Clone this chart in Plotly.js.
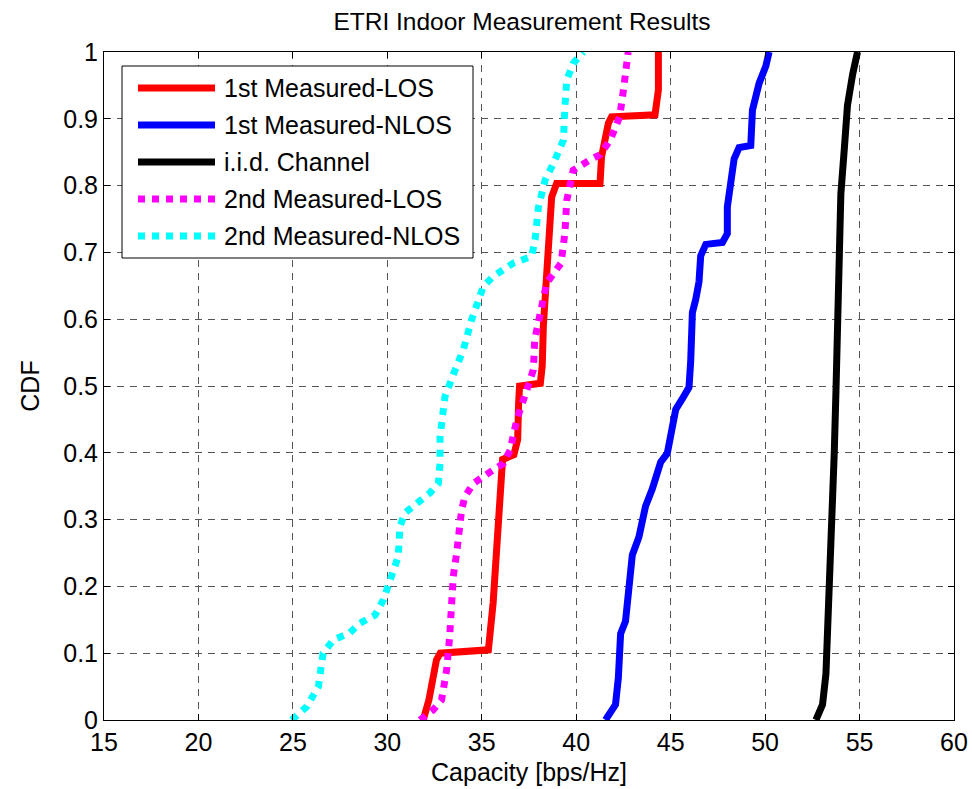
<!DOCTYPE html>
<html>
<head>
<meta charset="utf-8">
<script src="https://cdn.plot.ly/plotly-3.0.1.min.js"></script>
<style>html,body{margin:0;padding:0;background:#fff;}#chart{width:972px;height:789px;}</style>
</head>
<body>
<div id="chart"></div>
<script>
// ---- Data ----
const seriesNames = ['1st Measured-LOS', '1st Measured-NLOS', 'i.i.d. Channel', '2nd Measured-LOS', '2nd Measured-NLOS'];

const los1X = [31.9, 32.2, 32.4, 32.6, 32.8, 35.35, 35.6, 35.8, 35.9, 36.0, 36.1, 36.7, 36.9, 36.95, 37.0, 38.1, 38.2, 38.26, 38.43, 38.52, 38.7, 38.96, 41.26, 41.34, 41.7, 41.87, 44.17, 44.35, 44.35];
const los1Y = [0.0, 0.03, 0.06, 0.09, 0.10, 0.105, 0.175, 0.25, 0.31, 0.34, 0.39, 0.397, 0.42, 0.474, 0.50, 0.504, 0.53, 0.59, 0.669, 0.739, 0.783, 0.803, 0.803, 0.843, 0.893, 0.903, 0.906, 0.943, 1.0];

const nlos1X = [41.55, 42.08, 42.23, 42.35, 42.61, 42.88, 42.97, 43.32, 43.67, 44.03, 44.47, 44.82, 45.0, 45.27, 45.62, 45.97, 46.06, 46.15, 46.33, 46.5, 46.59, 46.86, 47.74, 48.0, 48.0, 48.18, 48.36, 48.62, 49.24, 49.33, 49.68, 50.04, 50.21];
const nlos1Y = [0.0, 0.023, 0.063, 0.129, 0.148, 0.208, 0.247, 0.274, 0.32, 0.346, 0.386, 0.399, 0.432, 0.465, 0.481, 0.498, 0.537, 0.61, 0.63, 0.656, 0.695, 0.712, 0.715, 0.728, 0.768, 0.807, 0.84, 0.857, 0.86, 0.913, 0.953, 0.979, 1.0];

const iidX = [52.69, 53.04, 53.22, 53.36, 53.48, 53.57, 53.66, 53.75, 53.83, 53.92, 54.01, 54.19, 54.36, 54.63, 54.89];
const iidY = [0.0, 0.023, 0.069, 0.161, 0.227, 0.307, 0.399, 0.491, 0.61, 0.709, 0.788, 0.854, 0.92, 0.966, 1.0];

const los2X = [31.73, 32.43, 32.87, 33.14, 33.3, 33.4, 33.49, 33.67, 33.76, 33.93, 34.1, 34.55, 35.43, 36.14, 36.5, 36.85, 37.38, 37.73, 37.8, 38.43, 39.2, 39.4, 39.5, 39.84, 40.7, 41.26, 41.8, 42.3, 42.5, 42.67, 42.75];
const los2Y = [0.0, 0.015, 0.03, 0.075, 0.125, 0.175, 0.215, 0.25, 0.284, 0.314, 0.334, 0.354, 0.371, 0.384, 0.404, 0.449, 0.494, 0.524, 0.569, 0.654, 0.684, 0.729, 0.778, 0.823, 0.838, 0.846, 0.868, 0.903, 0.943, 0.978, 1.0];

const nlos2X = [24.94, 25.73, 26.35, 26.6, 27.14, 28.0, 28.55, 29.35, 29.79, 30.05, 30.4, 30.58, 30.67, 30.93, 31.55, 32.26, 32.7, 32.79, 32.79, 32.87, 33.05, 33.49, 34.02, 34.46, 35.08, 35.6, 36.67, 37.64, 37.82, 38.0, 38.35, 38.79, 39.32, 39.4, 39.5, 39.84, 40.37];
const nlos2Y = [0.0, 0.02, 0.05, 0.10, 0.12, 0.13, 0.145, 0.157, 0.18, 0.2, 0.225, 0.245, 0.29, 0.31, 0.324, 0.34, 0.354, 0.384, 0.424, 0.449, 0.484, 0.517, 0.554, 0.599, 0.649, 0.664, 0.684, 0.694, 0.719, 0.768, 0.808, 0.833, 0.868, 0.918, 0.958, 0.983, 1.0];

const xTicks = [15, 20, 25, 30, 35, 40, 45, 50, 55, 60];
const yTicks = [0, 0.1, 0.2, 0.3, 0.4, 0.5, 0.6, 0.7, 0.8, 0.9, 1];
const yTickText = ['0', '0.1', '0.2', '0.3', '0.4', '0.5', '0.6', '0.7', '0.8', '0.9', '1'];

// ---- Styles ----
const colors = ['#ff0000', '#0000ff', '#000000', '#ff00ff', '#00ffff'];
const dashes = ['solid', 'solid', 'solid', '7px,7px', '7px,7px'];
const LW = 7;
const FONT = 'Liberation Sans, Arial, sans-serif';
const FS = 25;

const xs = [los1X, nlos1X, iidX, los2X, nlos2X];
const ys = [los1Y, nlos1Y, iidY, los2Y, nlos2Y];

const traces = seriesNames.map((name, i) => ({
  type: 'scatter', mode: 'lines', name: name,
  x: xs[i], y: ys[i],
  line: {color: colors[i], width: LW, dash: dashes[i]},
  showlegend: false, hoverinfo: 'skip'
}));

// plot area in pixels
const W = 972, H = 789, L = 104, R = 954, T = 52, B = 720;
const px = v => (v - L) / (R - L);
const py = v => (B - v) / (B - T);

// custom legend (MATLAB style)
const legBox = {x0: 122, y0: 66, x1: 473, y1: 258};
const legRows = [88, 125, 162, 199, 236];
const shapes = [{
  type: 'rect', xref: 'paper', yref: 'paper',
  x0: px(legBox.x0), x1: px(legBox.x1), y0: py(legBox.y1), y1: py(legBox.y0),
  line: {color: '#000', width: 1}, fillcolor: '#fff', layer: 'above'
}];
const annotations = [];
seriesNames.forEach((name, i) => {
  shapes.push({
    type: 'line', xref: 'paper', yref: 'paper', layer: 'above',
    x0: px(138), x1: px(215), y0: py(legRows[i]), y1: py(legRows[i]),
    line: {color: colors[i], width: LW, dash: dashes[i]}
  });
  annotations.push({
    xref: 'paper', yref: 'paper', x: px(222), y: py(legRows[i]),
    xanchor: 'left', yanchor: 'middle', showarrow: false,
    text: name, font: {family: FONT, size: FS, color: '#000'}
  });
});

const axisCommon = {
  showline: true, linecolor: '#000', linewidth: 1, mirror: 'ticks',
  ticks: 'inside', ticklen: 6, tickcolor: '#000', tickwidth: 1,
  showgrid: true, gridcolor: '#555', gridwidth: 1, griddash: '7px,6px',
  zeroline: false, tickfont: {family: FONT, size: FS, color: '#000'}
};

const layout = {
  width: W, height: H,
  margin: {l: L, r: W - R, t: T, b: H - B},
  paper_bgcolor: '#fff', plot_bgcolor: '#fff',
  font: {family: FONT, color: '#000'},
  title: {text: 'ETRI Indoor Measurement Results', font: {family: FONT, size: 24.5, color: '#000'},
          x: 522 / W, xref: 'container', xanchor: 'center', y: 1 - 21 / H, yref: 'container', yanchor: 'middle'},
  xaxis: Object.assign({}, axisCommon, {
    range: [15, 60], tickvals: xTicks, ticktext: xTicks.map(String),
    title: {text: 'Capacity [bps/Hz]', font: {family: FONT, size: FS, color: '#000'}, standoff: 8}
  }),
  yaxis: Object.assign({}, axisCommon, {
    range: [0, 1], tickvals: yTicks, ticktext: yTickText,
    title: {text: 'CDF', font: {family: FONT, size: FS, color: '#000'}, standoff: 16}
  }),
  shapes: shapes, annotations: annotations, showlegend: false
};

Plotly.newPlot('chart', traces, layout, {displayModeBar: false, staticPlot: true});
</script>
</body>
</html>
